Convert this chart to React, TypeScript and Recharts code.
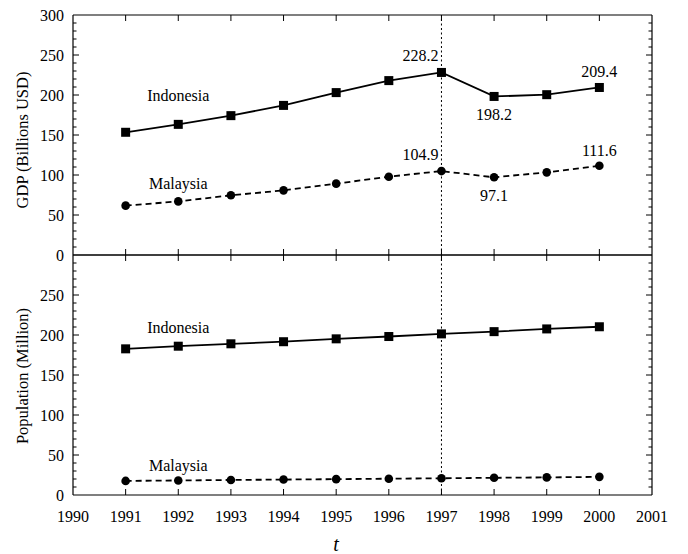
import React from 'react';
import { LineChart, Line, XAxis, YAxis, ReferenceLine, ReferenceDot, LabelList } from 'recharts';

const years = [1991, 1992, 1993, 1994, 1995, 1996, 1997, 1998, 1999, 2000];

// GDP, billions USD
const gdpIndonesia = [153.4, 163.3, 174.2, 187.0, 203.0, 218.0, 228.2, 198.2, 200.4, 209.4];
const gdpMalaysia = [61.7, 67.0, 74.6, 80.8, 89.2, 97.9, 104.9, 97.1, 103.3, 111.6];

// population, million
const popIndonesia = [182.7, 186.0, 189.0, 191.6, 195.2, 198.1, 201.4, 204.2, 207.6, 210.3];
const popMalaysia = [17.6, 18.2, 18.8, 19.3, 19.8, 20.4, 20.9, 21.5, 22.0, 22.7];

const yearTicks = [1990, 1991, 1992, 1993, 1994, 1995, 1996, 1997, 1998, 1999, 2000, 2001];
const gdpTickLabels = [0, 50, 100, 150, 200, 250, 300];
const popTickLabels = [0, 50, 100, 150, 200, 250];
const yMax = 300;
const minorStep = 10;
const crisisYear = 1997;

// which GDP points carry a value label, and where it sits
const gdpIndonesiaNotes = [
  { year: 1997, place: 'aboveLeft' },
  { year: 1998, place: 'below' },
  { year: 2000, place: 'above' },
];
const gdpMalaysiaNotes = [
  { year: 1997, place: 'aboveLeft' },
  { year: 1998, place: 'below' },
  { year: 2000, place: 'above' },
];

// series names written inside the panels (data coordinates)
const gdpNames = [
  { name: 'Indonesia', year: 1992, value: 199 },
  { name: 'Malaysia', year: 1992, value: 90 },
];
const popNames = [
  { name: 'Indonesia', year: 1992, value: 209 },
  { name: 'Malaysia', year: 1992, value: 37.5 },
];

const FONT = '"Liberation Serif", "Times New Roman", Times, serif';
const TXT = { fontFamily: FONT };
const W = 688;
const LEFT = 73;
const RIGHT = 36;

const yTicks = Array.from({ length: yMax / minorStep + 1 }, (_, i) => i * minorStep);

const gdpData = years.map((year, i) => ({ year, indonesia: gdpIndonesia[i], malaysia: gdpMalaysia[i] }));
const popData = years.map((year, i) => ({ year, indonesia: popIndonesia[i], malaysia: popMalaysia[i] }));

function XTick(props: any) {
  const { x, y, payload, side, showLabel } = props;
  const v = payload.value;
  const inner = v !== yearTicks[0] && v !== yearTicks[yearTicks.length - 1];
  const dir = side === 'top' ? 1 : -1;
  return (
    <g>
      {inner && <line x1={x} y1={y} x2={x} y2={y + dir * 6} stroke="#000" strokeWidth={1} />}
      {showLabel && (
        <text x={x} y={y + 27} textAnchor="middle" style={TXT} fontSize={16} fill="#000">
          {v}
        </text>
      )}
    </g>
  );
}

function YTick(props: any) {
  const { x, y, payload, side, labels } = props;
  const v = payload.value;
  const major = v % 50 === 0;
  const len = major ? 6 : 3.5;
  const dir = side === 'left' ? 1 : -1;
  const edge = v === 0 || v === yMax;
  return (
    <g>
      {!edge && <line x1={x} y1={y} x2={x + dir * len} y2={y} stroke="#000" strokeWidth={1} />}
      {side === 'left' && labels.includes(v) && (
        <text x={x - 9} y={y + 5.5} textAnchor="end" style={TXT} fontSize={16} fill="#000">
          {v}
        </text>
      )}
    </g>
  );
}

const renderSquare = (p: any) => {
  if (p.cx == null || p.cy == null) return <g key={`sq-${p.index}`} />;
  return <rect key={`sq-${p.index}`} x={p.cx - 4.5} y={p.cy - 4.5} width={9} height={9} fill="#000" />;
};

const renderCircle = (p: any) => {
  if (p.cx == null || p.cy == null) return <g key={`ci-${p.index}`} />;
  return <circle key={`ci-${p.index}`} cx={p.cx} cy={p.cy} r={4.3} fill="#000" />;
};

const noteRenderer = (notes: { year: number; place: string }[], series: number[]) => (props: any) => {
  const idx = props.index ?? series.indexOf(Number(props.value));
  const note = notes.find((n) => n.year === years[idx]);
  if (!note) return null;
  const x = props.x ?? props.viewBox?.x;
  const y = props.y ?? props.viewBox?.y;
  if (x == null || y == null) return null;
  let tx = x;
  let ty = y;
  let anchor: 'start' | 'middle' | 'end' = 'middle';
  if (note.place === 'aboveLeft') {
    tx = x - 3;
    ty = y - 11;
    anchor = 'end';
  } else if (note.place === 'below') {
    ty = y + 24;
  } else {
    ty = y - 10;
  }
  return (
    <text key={`note-${idx}`} x={tx} y={ty} textAnchor={anchor} style={TXT} fontSize={16} fill="#000">
      {Number(props.value).toFixed(1)}
    </text>
  );
};

function Panel({
  data,
  top,
  height,
  topAxisHeight,
  bottomAxisHeight,
  labels,
  names,
  showYearLabels,
  indonesiaNotes,
  malaysiaNotes,
  indonesiaSeries,
  malaysiaSeries,
}: any) {
  return (
    <div style={{ position: 'absolute', left: 0, top }}>
      <LineChart width={W} height={height} data={data} margin={{ top: 0, right: 0, bottom: 0, left: 0 }}>
        <XAxis
          xAxisId="top"
          orientation="top"
          dataKey="year"
          type="number"
          domain={[1990, 2001]}
          ticks={yearTicks}
          interval={0}
          height={topAxisHeight}
          tickSize={0}
          tickMargin={0}
          tickLine={false}
          axisLine={{ stroke: '#000', strokeWidth: 1.2 }}
          tick={<XTick side="top" showLabel={false} />}
          allowDataOverflow
        />
        <XAxis
          dataKey="year"
          type="number"
          domain={[1990, 2001]}
          ticks={yearTicks}
          interval={0}
          height={bottomAxisHeight}
          tickSize={0}
          tickMargin={0}
          tickLine={false}
          axisLine={{ stroke: '#000', strokeWidth: 1.2 }}
          tick={<XTick side="bottom" showLabel={showYearLabels} />}
          allowDataOverflow
        />
        <YAxis
          type="number"
          domain={[0, yMax]}
          ticks={yTicks}
          interval={0}
          width={LEFT}
          tickSize={0}
          tickMargin={0}
          tickLine={false}
          axisLine={{ stroke: '#000', strokeWidth: 1.2 }}
          tick={<YTick side="left" labels={labels} />}
          allowDataOverflow
        />
        <YAxis
          yAxisId="right"
          orientation="right"
          type="number"
          domain={[0, yMax]}
          ticks={yTicks}
          interval={0}
          width={RIGHT}
          tickSize={0}
          tickMargin={0}
          tickLine={false}
          axisLine={{ stroke: '#000', strokeWidth: 1.2 }}
          tick={<YTick side="right" labels={[]} />}
          allowDataOverflow
        />
        <ReferenceLine x={crisisYear} stroke="#000" strokeWidth={1} strokeDasharray="2 2.5" />
        <Line
          type="linear"
          dataKey="indonesia"
          stroke="#000"
          strokeWidth={1.8}
          dot={renderSquare}
          activeDot={false}
          isAnimationActive={false}
        >
          {indonesiaNotes && <LabelList dataKey="indonesia" content={noteRenderer(indonesiaNotes, indonesiaSeries)} />}
        </Line>
        <Line
          type="linear"
          dataKey="malaysia"
          stroke="#000"
          strokeWidth={1.8}
          strokeDasharray="6 4"
          dot={renderCircle}
          activeDot={false}
          isAnimationActive={false}
        >
          {malaysiaNotes && <LabelList dataKey="malaysia" content={noteRenderer(malaysiaNotes, malaysiaSeries)} />}
        </Line>
        {names.map((n: any) => (
          <ReferenceDot
            key={`${n.name}-${n.value}`}
            x={n.year}
            y={n.value}
            r={0.01}
            fill="none"
            stroke="none"
            label={{ value: n.name, position: 'center', fill: '#000', fontSize: 16, style: TXT }}
          />
        ))}
      </LineChart>
    </div>
  );
}

export default function App() {
  return (
    <div style={{ position: 'absolute', left: 0, top: 0, width: W, height: 554, background: '#fff' }}>
      <Panel
        data={popData}
        top={254}
        height={300}
        topAxisHeight={1}
        bottomAxisHeight={59}
        labels={popTickLabels}
        names={popNames}
        showYearLabels={true}
        indonesiaNotes={null}
        malaysiaNotes={null}
        indonesiaSeries={popIndonesia}
        malaysiaSeries={popMalaysia}
      />
      <Panel
        data={gdpData}
        top={0}
        height={271}
        topAxisHeight={15}
        bottomAxisHeight={16}
        labels={gdpTickLabels}
        names={gdpNames}
        showYearLabels={false}
        indonesiaNotes={gdpIndonesiaNotes}
        malaysiaNotes={gdpMalaysiaNotes}
        indonesiaSeries={gdpIndonesia}
        malaysiaSeries={gdpMalaysia}
      />
      <svg width={W} height={554} style={{ position: 'absolute', left: 0, top: 0, pointerEvents: 'none' }}>
        <text transform="translate(28 140) rotate(-90)" textAnchor="middle" style={TXT} fontSize={16.5} fill="#000">
          GDP (Billions USD)
        </text>
        <text transform="translate(28 376) rotate(-90)" textAnchor="middle" style={TXT} fontSize={16.5} fill="#000">
          Population (Million)
        </text>
        <text x={336} y={551} textAnchor="middle" style={TXT} fontSize={20} fontStyle="italic" fill="#000">
          t
        </text>
      </svg>
    </div>
  );
}
